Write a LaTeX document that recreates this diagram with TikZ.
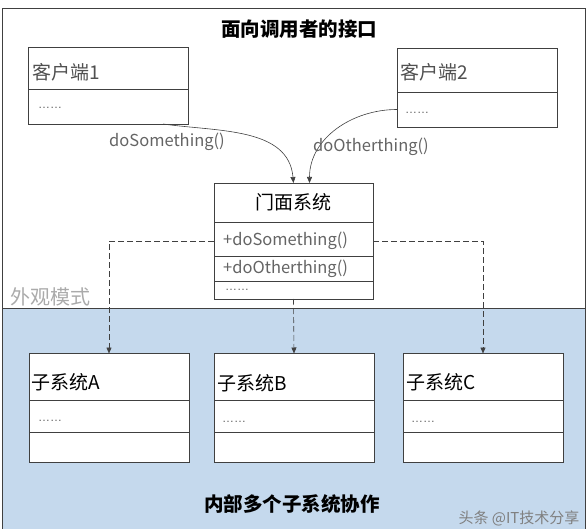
\documentclass[tikz,border=0pt]{standalone}
\usepackage{fontspec}
\newfontfamily\cjk{Noto Sans CJK SC}
\newfontfamily\libsans{Liberation Sans}
\usetikzlibrary{positioning,arrows.meta}
\definecolor{blueback}{RGB}{197,217,237}
\definecolor{boxline}{RGB}{64,64,64}
\definecolor{methgray}{RGB}{100,100,100}
\definecolor{clientgray}{RGB}{80,80,80}
\definecolor{patterngray}{RGB}{170,170,170}
\tikzset{
	cellbox/.style={draw=boxline, line width=0.8pt, fill=white, minimum width=160pt, inner sep=0pt, outer sep=0pt},
	boxname/.style={font=\cjk\fontsize{19}{19}\selectfont, inner sep=0pt, anchor=west},
	meth/.style={font=\cjk\fontsize{16.5}{16.5}\selectfont, text=methgray, inner sep=0pt, anchor=west},
	ellip/.style={font=\libsans\fontsize{12}{12}\selectfont, text=methgray, inner sep=0pt, anchor=west},
	headline/.style={font=\cjk\bfseries\fontsize{19.5}{19.5}\selectfont, inner sep=0pt},
	call/.style={-{Triangle[length=6pt,width=5pt]}, line width=0.6pt, draw=boxline},
	link/.style={call, dash pattern=on 6pt off 3pt},
}
\begin{document}
\begin{tikzpicture}[x=1pt,y=-1pt]
	\useasboundingbox (0,0) rectangle (588,529);
	\fill[blueback] (2,308) rectangle (585,529);
	\draw[boxline, line width=0.8pt] (2,529) -- (2,8) -- (585,8) -- (585,529);
	\draw[boxline, line width=0.8pt] (2,308) -- (585,308);
	\node[headline] (toptitle) at (299,29) {面向调用者的接口};
	\node[headline] (bottitle) at (292,504) {内部多个子系统协作};
	\node[boxname, font=\cjk\fontsize{20}{20}\selectfont, text=patterngray] (pattern) at (10,297) {外观模式};
	
	% clients
	\node[cellbox, minimum height=42pt, anchor=north west] (client1) at (28,47) {};
	\node[cellbox, minimum height=35pt, below=0pt of client1] (client1body) {};
	\node[boxname, text=clientgray] (c1name) at ([xshift=4pt,yshift=-4pt]client1.west) {客户端1};
	\node[ellip] (c1dots) at ([xshift=10pt,yshift=-1.5pt]client1body.west) {……};
	\node[cellbox, minimum height=44pt, anchor=north west] (client2) at (397,48) {};
	\node[cellbox, minimum height=35pt, below=0pt of client2] (client2body) {};
	\node[boxname, text=clientgray] (c2name) at ([xshift=3pt,yshift=-2pt]client2.west) {客户端2};
	\node[ellip] (c2dots) at ([xshift=8pt,yshift=-3.5pt]client2body.west) {……};
	
	% facade
	\node[cellbox, minimum width=159pt, minimum height=39pt, anchor=north west] (facade) at (214,183) {};
	\node[cellbox, minimum width=159pt, minimum height=34pt, below=0pt of facade] (fm1) {};
	\node[cellbox, minimum width=159pt, minimum height=25pt, below=0pt of fm1] (fm2) {};
	\node[cellbox, minimum width=159pt, minimum height=18pt, below=0pt of fm2] (fm3) {};
	\node[boxname, anchor=center] (fname) at (facade) {门面系统};
	\node[meth] (fm1text) at ([xshift=9pt,yshift=-2pt]fm1.west) {+doSomething()};
	\node[meth] (fm2text) at ([xshift=9pt]fm2.west) {+doOtherthing()};
	\node[ellip] (fm3dots) at ([xshift=11pt]fm3.west) {……};
	
	% subsystems
	\node[cellbox, minimum height=46.5pt, anchor=north west] (subA) at (29,353.5) {};
	\node[cellbox, minimum height=32.5pt, below=0pt of subA] (subAbody) {};
	\node[cellbox, minimum height=30pt, below=0pt of subAbody] (subAfoot) {};
	\node[boxname] (aname) at ([xshift=2pt,yshift=-5.5pt]subA.west) {子系统A};
	\node[ellip] (adots) at ([xshift=9pt,yshift=-4.75pt]subAbody.west) {……};
	\node[cellbox, minimum height=46.5pt, anchor=north west] (subB) at (214,353.5) {};
	\node[cellbox, minimum height=32.5pt, below=0pt of subB] (subBbody) {};
	\node[cellbox, minimum height=30pt, below=0pt of subBbody] (subBfoot) {};
	\node[boxname] (bname) at ([xshift=3pt,yshift=-6pt]subB.west) {子系统B};
	\node[ellip] (bdots) at ([xshift=8pt,yshift=-5.75pt]subBbody.west) {……};
	\node[cellbox, minimum height=46.5pt, anchor=north west] (subC) at (403,353.5) {};
	\node[cellbox, minimum height=32.5pt, below=0pt of subC] (subCbody) {};
	\node[cellbox, minimum height=30pt, below=0pt of subCbody] (subCfoot) {};
	\node[boxname] (cname) at ([xshift=3pt,yshift=-5pt]subC.west) {子系统C};
	\node[ellip] (cdots) at ([xshift=8pt,yshift=-5.75pt]subCbody.west) {……};
	
	% calls
	\draw[call] ([xshift=-25pt]client1body.south east) to[out=-8,in=95] (facade.north);
	\draw[call] (client2body.west) to[out=180,in=90] ([xshift=16pt]facade.north);
	\node[meth, anchor=center] (callone) at (167,142) {doSomething()};
	\node[meth, anchor=center] (calltwo) at (371,147) {doOtherthing()};
	\draw[link] ([yshift=-2pt]fm1.west) -| (subA.north);
	\draw[link] (fm3.south) -- (subB.north);
	\draw[link] ([yshift=-2pt]fm1.east) -| (subC.north);
	
	\node[font=\cjk\fontsize{15}{15}\selectfont, text=gray] (mark) at (519,518) {头条 @IT技术分享};
\end{tikzpicture}
\end{document}
